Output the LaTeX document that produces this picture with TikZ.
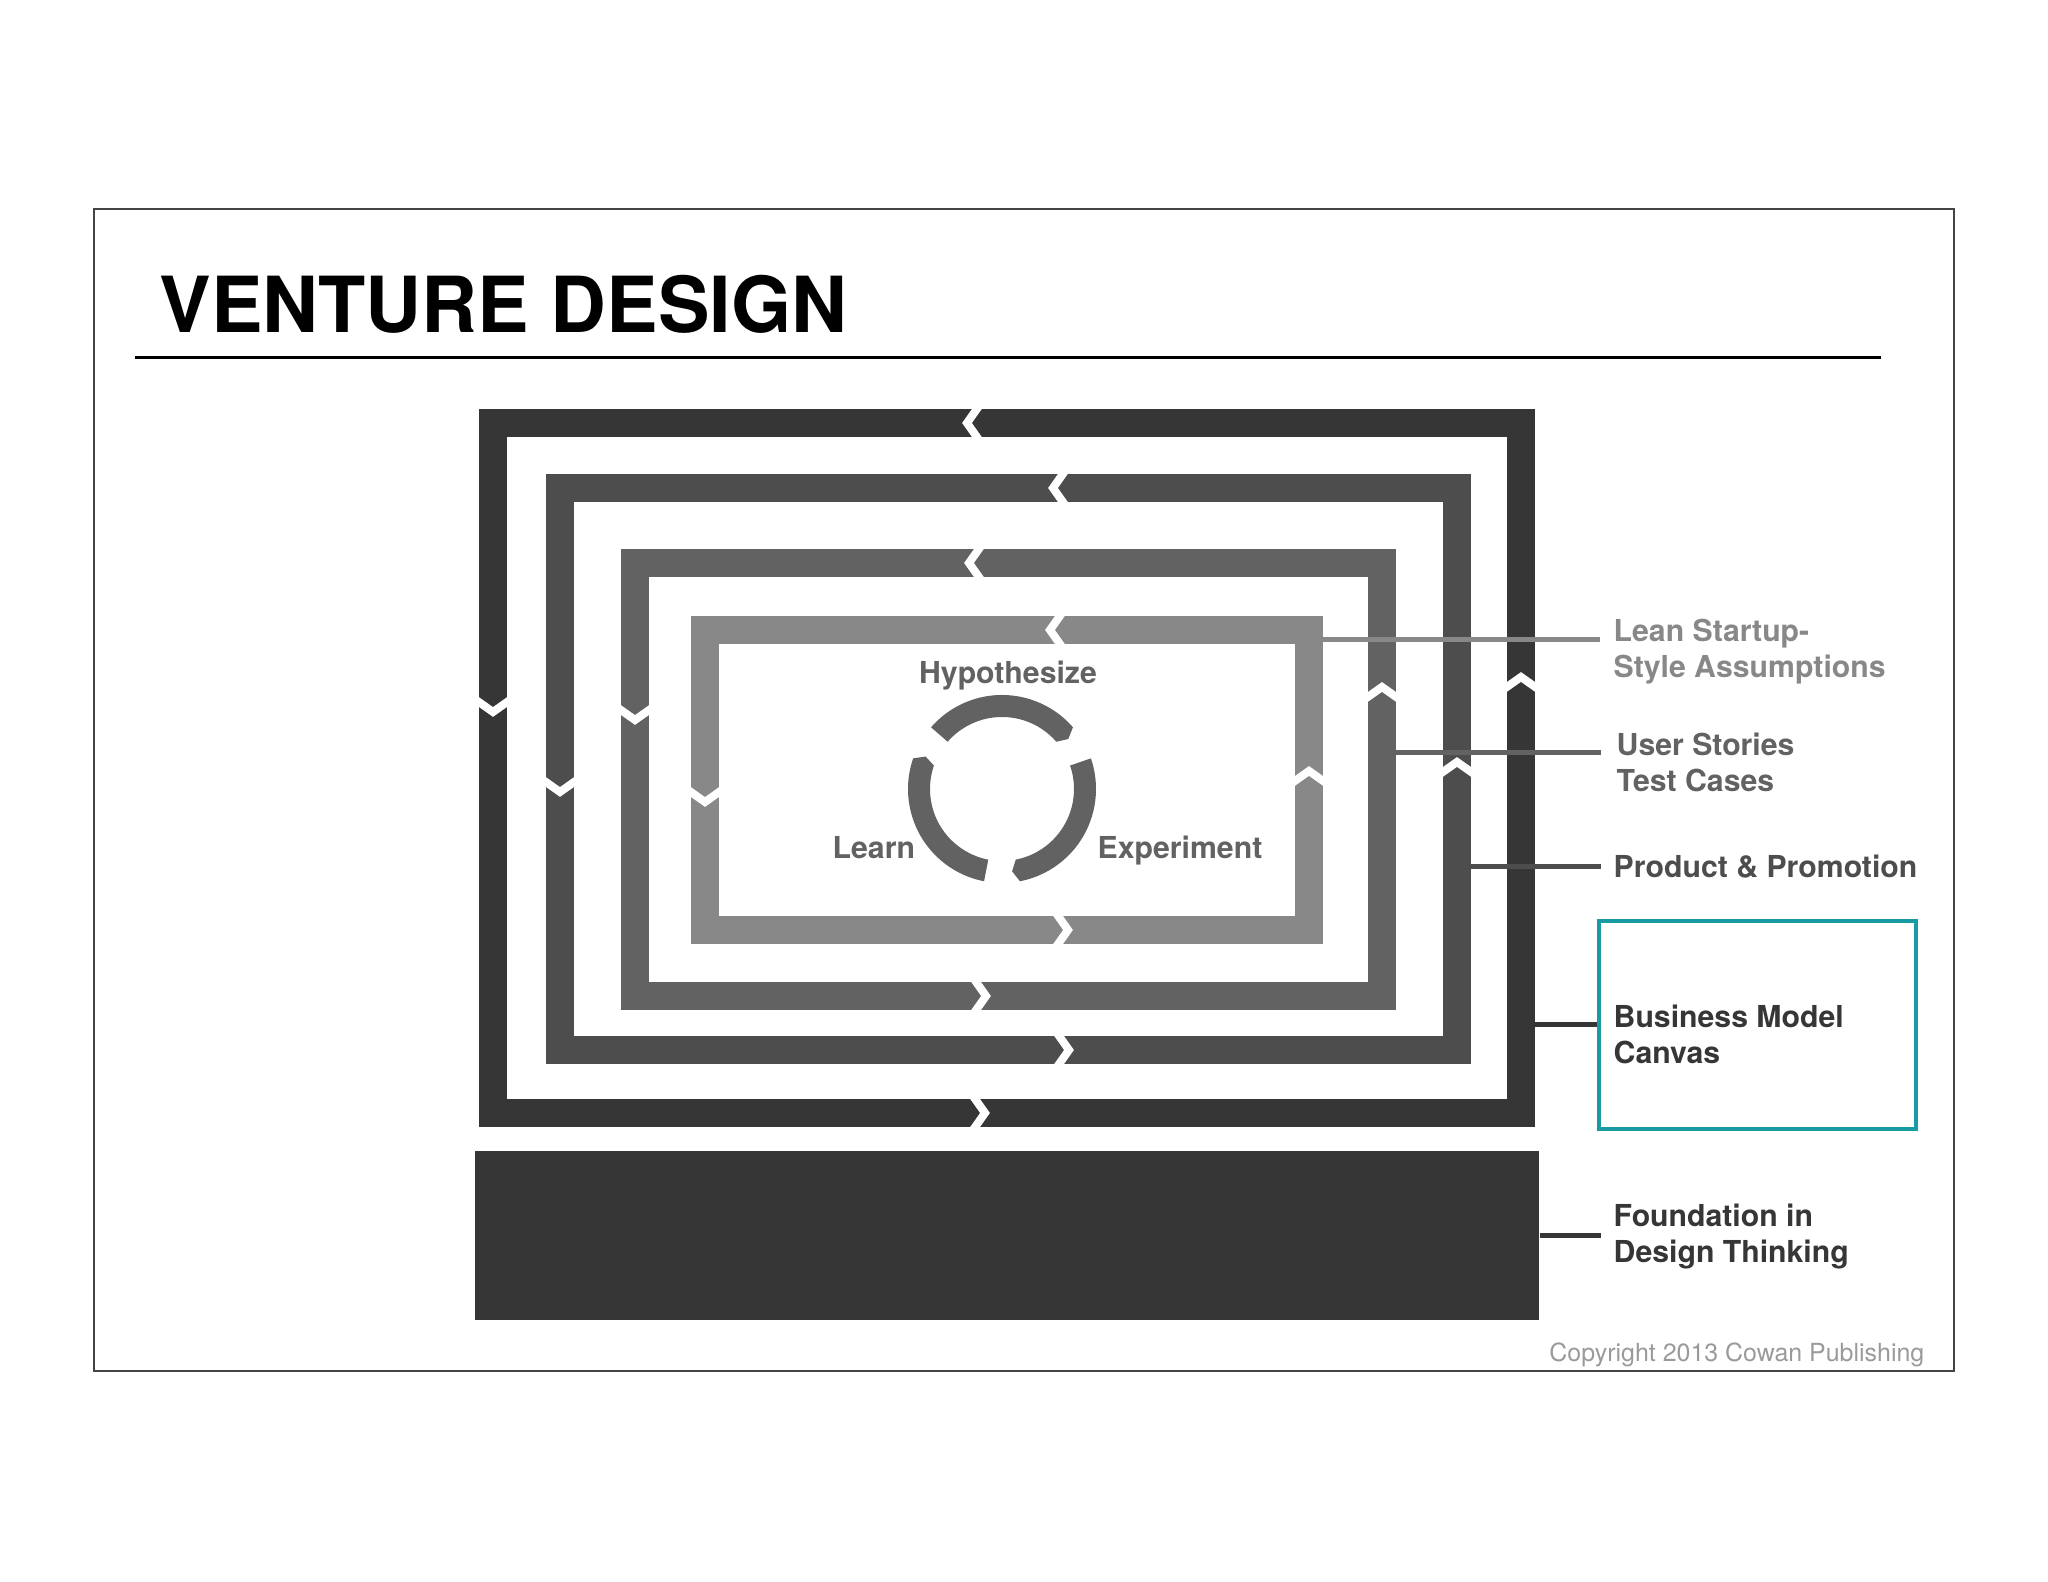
\documentclass[tikz,border=0pt]{standalone}
\usepackage{fontspec}
\setmainfont{TeX Gyre Heros}
\usepackage{tikz}
\usetikzlibrary{calc}
\definecolor{ringone}{HTML}{363636}
\definecolor{ringtwo}{HTML}{4D4D4D}
\definecolor{ringthree}{HTML}{626262}
\definecolor{ringfour}{HTML}{888888}
\definecolor{ourteal}{HTML}{179CA6}
\definecolor{copygray}{HTML}{9A9A9A}
\definecolor{framegray}{HTML}{444444}

\begin{document}
\begin{tikzpicture}

  \tikzstyle{ring}=[draw, line width=0.28cm, inner sep=0pt]
  \tikzstyle{notch}=[draw=white, line width=0.08cm]
  \tikzstyle{leader}=[line width=0.05cm]
  \tikzstyle{layername}=[anchor=base west, align=left, inner sep=0pt,
                         font=\fontsize{8.6}{10.4}\selectfont\bfseries]
  \tikzstyle{stage}=[anchor=base, inner sep=0pt, text=ringthree,
                     font=\fontsize{8.6}{10.4}\selectfont\bfseries]
  \tikzstyle{canvasframe}=[draw=ourteal, line width=0.04cm,
                           minimum width=3.17cm, minimum height=2.08cm]

  \useasboundingbox (0,0) rectangle (20.48,15.82);

  \draw[framegray, line width=0.02cm] (0.94,2.11) rectangle (19.54,13.73);

  \path
  (1.59,12.49) node[anchor=base west, inner sep=0pt,
                    font=\fontsize{22}{26}\selectfont\bfseries](title){VENTURE DESIGN};
  \draw[line width=0.03cm] (1.35,12.24) -- (18.81,12.24);

  \path
  (10.07, 8.14) node[ring, draw=ringone, minimum width=10.28cm, minimum height=6.90cm](ringone){}
  (10.085,8.13) node[ring, draw=ringtwo, minimum width=8.97cm, minimum height=5.62cm](ringtwo){}
  (10.085,8.025) node[ring, draw=ringthree, minimum width=7.47cm, minimum height=4.33cm](ringthree){}
  (10.07, 8.02) node[ring, draw=ringfour, minimum width=6.04cm, minimum height=3.00cm](ringfour){};

  \path
  (10.07,3.465) node[fill=ringone, minimum width=10.64cm, minimum height=1.69cm](foundation){};

  % notches, top and bottom
  \draw[notch] (9.79,11.76) -- ++(-0.12,-0.17) -- ++(0.12,-0.17);
  \draw[notch] (10.65,11.11) -- ++(-0.12,-0.17) -- ++(0.12,-0.17);
  \draw[notch] (9.81,10.36) -- ++(-0.12,-0.17) -- ++(0.12,-0.17);
  \draw[notch] (10.62,9.69) -- ++(-0.12,-0.17) -- ++(0.12,-0.17);
  \draw[notch] (9.73,4.86) -- ++(0.12,-0.17) -- ++(-0.12,-0.17);
  \draw[notch] (10.57,5.49) -- ++(0.12,-0.17) -- ++(-0.12,-0.17);
  \draw[notch] (9.74,6.03) -- ++(0.12,-0.17) -- ++(-0.12,-0.17);
  \draw[notch] (10.56,6.69) -- ++(0.12,-0.17) -- ++(-0.12,-0.17);
  % notches, left and right
  \draw[notch] (4.76,8.82) -- ++(0.17,-0.12) -- ++(0.17,0.12);
  \draw[notch] (5.43,8.02) -- ++(0.17,-0.12) -- ++(0.17,0.12);
  \draw[notch] (6.18,8.74) -- ++(0.17,-0.12) -- ++(0.17,0.12);
  \draw[notch] (6.88,7.92) -- ++(0.17,-0.12) -- ++(0.17,0.12);
  \draw[notch] (15.04,8.93) -- ++(0.17,0.12) -- ++(0.17,-0.12);
  \draw[notch] (14.40,8.08) -- ++(0.17,0.12) -- ++(0.17,-0.12);
  \draw[notch] (13.65,8.83) -- ++(0.17,0.12) -- ++(0.17,-0.12);
  \draw[notch] (12.92,7.99) -- ++(0.17,0.12) -- ++(0.17,-0.12);

  \coordinate (hub) at (10.02,7.93);
  \fill[ringthree] ($(hub)+(139:0.94)$) arc[start angle=139, end angle=41, radius=0.94]
    -- ($(hub)+(37:0.83)$) -- ($(hub)+(41:0.72)$)
    arc[start angle=41, end angle=139, radius=0.72] -- cycle;
  \fill[ringthree] ($(hub)+(19:0.94)$) arc[start angle=19, end angle=-79, radius=0.94]
    -- ($(hub)+(-83:0.83)$) -- ($(hub)+(-79:0.72)$)
    arc[start angle=-79, end angle=19, radius=0.72] -- cycle;
  \fill[ringthree] ($(hub)+(259:0.94)$) arc[start angle=259, end angle=161, radius=0.94]
    -- ($(hub)+(157:0.83)$) -- ($(hub)+(161:0.72)$)
    arc[start angle=161, end angle=259, radius=0.72] -- cycle;

  \path
  (10.08,8.98) node[stage](hyp){Hypothesize}
  (8.32, 7.23) node[stage, anchor=base west](learn){Learn}
  (10.97,7.23) node[stage, anchor=base west](exper){Experiment};

  \path
  (16.13,9.043) node[layername, text=ringfour](lean){Lean Startup-\\Style Assumptions}
  (16.16,7.903) node[layername, text=ringthree](stories){User Stories\\Test Cases}
  (16.13,7.04) node[layername, text=ringtwo](product){Product \& Promotion}
  (16.13,5.183) node[layername, text=ringone](bmc){Business Model\\Canvas}
  (16.13,3.193) node[layername, text=ringone](found){Foundation in\\Design Thinking};

  \path
  (17.575,5.57) node[canvasframe](canvasbox){};

  \coordinate (leanpin) at (16.00,9.42);
  \coordinate (storypin) at (16.01,8.29);
  \coordinate (productpin) at (16.01,7.15);
  \coordinate (foundpin) at (16.01,3.465);

  \draw[leader, draw=ringfour] (ringfour.east |- leanpin) -- (leanpin);
  \draw[leader, draw=ringthree] (ringthree.east |- storypin) -- (storypin);
  \draw[leader, draw=ringtwo] (ringtwo.east |- productpin) -- (productpin);
  \draw[leader, draw=ringone] (ringone.east |- canvasbox.west) -- (canvasbox.west);
  \draw[leader, draw=ringone] (foundation.east) -- (foundpin);

  \path
  (19.25,2.20) node[anchor=base east, inner sep=0pt, text=copygray,
                    font=\fontsize{7.1}{8.5}\selectfont](copyright){Copyright 2013 Cowan Publishing};

\end{tikzpicture}
\end{document}
